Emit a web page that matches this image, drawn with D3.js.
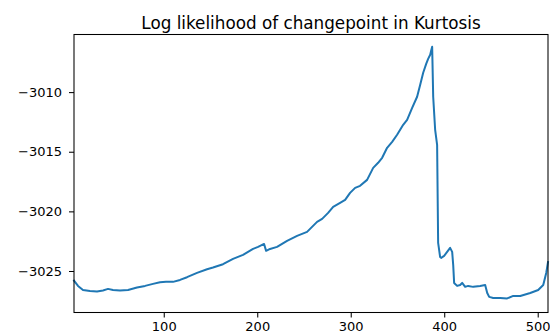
<!DOCTYPE html>
<html>
<head>
<meta charset="utf-8">
<script src="https://cdn.jsdelivr.net/npm/d3@7"></script>
<style>
  html, body { margin: 0; padding: 0; background: #fff; }
  svg { display: block; font-family: "DejaVu Sans", sans-serif; }
</style>
</head>
<body>
<svg id="chart" width="550" height="333"></svg>
<script>
const titleText = "Log likelihood of changepoint in Kurtosis";
const xTicks = [100, 200, 300, 400, 500];
const yTicks = [-3010, -3015, -3020, -3025];
const xValues = [4, 8.3, 13.6, 21.1, 28.6, 35, 40.4, 45.7, 53.2, 61.8, 71.4, 80, 88.5, 96, 102.4, 109.9, 117.4, 124.9, 135.6, 146.3, 152.7, 163.4, 174.1, 184.8, 195.5, 200.9, 207.3, 209.5, 213.7, 221.2, 231.9, 242.6, 253.3, 264, 269.4, 275.8, 281.2, 288.6, 294, 299.3, 304.7, 310, 317.5, 324, 329.3, 333.6, 338.9, 344.3, 349.6, 356.1, 360.3, 365.7, 371, 374.3, 377.5, 380.7, 382.8, 385, 386, 387.1, 388.2, 390.3, 392.4, 393.5, 395.6, 396.7, 399.9, 403.1, 406.3, 408.5, 409.6, 410.6, 413.8, 417, 419.2, 422.4, 425.6, 431, 438.4, 443.8, 446, 448.1, 452.4, 459.9, 467.3, 473.8, 481.3, 492, 500.5, 505.9, 509.1, 511];
const yValues = [-3025.81, -3026.25, -3026.59, -3026.67, -3026.71, -3026.63, -3026.50, -3026.59, -3026.64, -3026.59, -3026.39, -3026.25, -3026.08, -3025.94, -3025.91, -3025.91, -3025.75, -3025.52, -3025.16, -3024.85, -3024.71, -3024.43, -3023.98, -3023.65, -3023.15, -3022.98, -3022.73, -3023.31, -3023.15, -3022.98, -3022.47, -3022.06, -3021.72, -3020.88, -3020.63, -3020.13, -3019.62, -3019.29, -3019.04, -3018.45, -3018.03, -3017.86, -3017.36, -3016.35, -3015.93, -3015.51, -3014.67, -3014.17, -3013.58, -3012.74, -3012.32, -3011.32, -3010.39, -3009.39, -3008.38, -3007.63, -3007.21, -3006.87, -3006.54, -3006.20, -3010.39, -3013.16, -3014.42, -3022.64, -3023.82, -3023.90, -3023.73, -3023.40, -3023.06, -3023.40, -3024.49, -3026.00, -3026.25, -3026.17, -3026.00, -3026.33, -3026.25, -3026.33, -3026.25, -3026.17, -3026.84, -3027.17, -3027.26, -3027.26, -3027.30, -3027.09, -3027.09, -3026.84, -3026.59, -3026.17, -3025.16, -3024.25];

const data = xValues.map((xv, i) => ({x: xv, y: yValues[i]}));

const mLeft = 74, mRight = 548, mTop = 34.5, mBottom = 312.5;
const svg = d3.select("#chart");

const x = d3.scaleLinear().domain([4, 511]).range([mLeft, mRight]);
const y = d3.scaleLinear().domain([-3028.48, -3005.17]).range([mBottom, mTop]);

const fmt = d => String(d).replace("-", "\u2212");

const xAxis = svg.append("g")
  .attr("transform", `translate(0,${mBottom})`)
  .call(d3.axisBottom(x).tickValues(xTicks).tickSize(5).tickPadding(4.5).tickFormat(fmt));
const yAxis = svg.append("g")
  .attr("transform", `translate(${mLeft},0)`)
  .call(d3.axisLeft(y).tickValues(yTicks).tickSize(5).tickPadding(7).tickFormat(fmt));

[xAxis, yAxis].forEach(g => {
  g.select(".domain").remove();
  g.selectAll(".tick line").attr("stroke", "#000").attr("stroke-width", 1.05);
  g.selectAll(".tick text").attr("fill", "#000")
    .style("font-family", "'DejaVu Sans', sans-serif").style("font-size", "13px");
});

svg.append("path")
  .datum(data)
  .attr("fill", "none")
  .attr("stroke", "#1f77b4")
  .attr("stroke-width", 2)
  .attr("stroke-linejoin", "round")
  .attr("stroke-linecap", "square")
  .attr("d", d3.line().x(d => x(d.x)).y(d => y(d.y)));

svg.append("rect")
  .attr("x", mLeft).attr("y", mTop)
  .attr("width", mRight - mLeft).attr("height", mBottom - mTop)
  .attr("fill", "none").attr("stroke", "#000").attr("stroke-width", 1.05);

svg.append("text")
  .attr("x", (mLeft + mRight) / 2).attr("y", 28.5)
  .attr("text-anchor", "middle")
  .style("font-family", "'DejaVu Sans', sans-serif")
  .style("font-size", "16.8px")
  .attr("fill", "#000")
  .text(titleText);
</script>
</body>
</html>
